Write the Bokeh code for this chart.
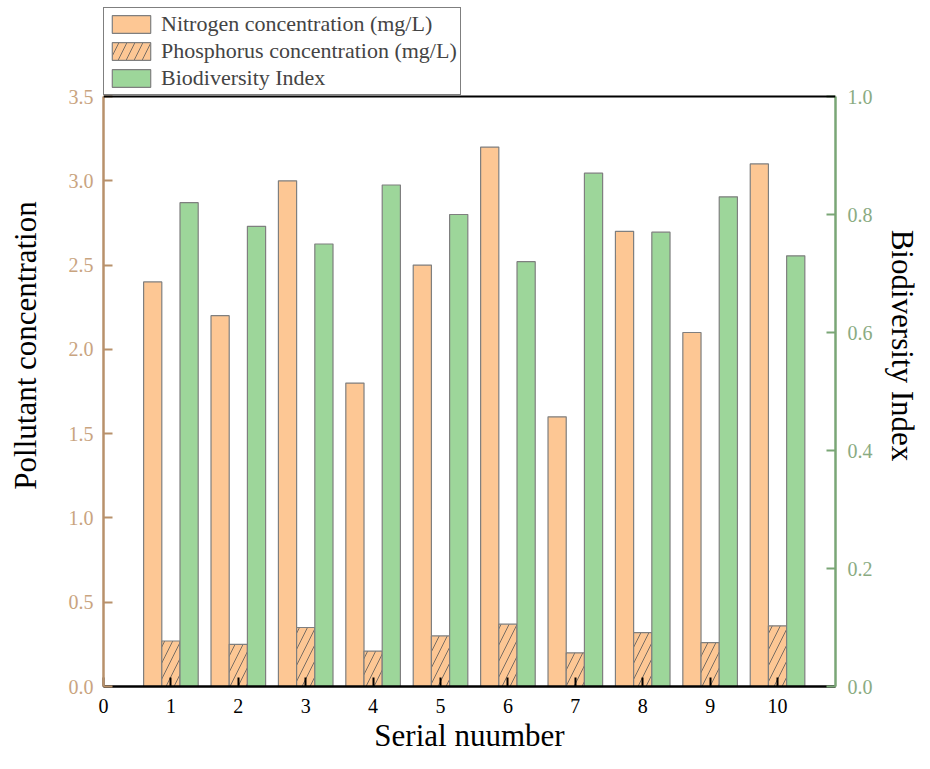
from bokeh.plotting import figure
from bokeh.models import (ColumnDataSource, LinearAxis, Range1d, FixedTicker,
                          NumeralTickFormatter, Legend, LegendItem, Span)
from bokeh.transform import dodge
from bokeh.embed import file_html
from bokeh.resources import INLINE

serial = [1, 2, 3, 4, 5, 6, 7, 8, 9, 10]
nitrogen = [2.4, 2.2, 3.0, 1.8, 2.5, 3.2, 1.6, 2.7, 2.1, 3.1]
phosphorus = [0.27, 0.25, 0.35, 0.21, 0.30, 0.37, 0.20, 0.32, 0.26, 0.36]
biodiversity = [0.82, 0.78, 0.75, 0.85, 0.80, 0.72, 0.87, 0.77, 0.83, 0.73]

x_ticks = [0, 1, 2, 3, 4, 5, 6, 7, 8, 9, 10]
left_ticks = [0.0, 0.5, 1.0, 1.5, 2.0, 2.5, 3.0, 3.5]
right_ticks = [0.0, 0.2, 0.4, 0.6, 0.8, 1.0]
LEFT_MAX = 3.5
RIGHT_MAX = 1.0

SERIF = "Liberation Serif"
TAN = "#b8916b"
TAN_TXT = "#c9a47f"
GREEN_AX = "#7aa676"
GREEN_TXT = "#8aab82"
PEACH = "#fdc794"
GREEN = "#9dd69a"
EDGE = "#7f7f7f"

# frame geometry (px): axis area 590 px tall, legend strip above it
AXIS_PX = 590
TOP_PX = 92
left_end = LEFT_MAX * (1 + TOP_PX / AXIS_PX)
right_end = RIGHT_MAX * (1 + TOP_PX / AXIS_PX)

src = ColumnDataSource(dict(serial=serial, nitrogen=nitrogen,
                            phosphorus=phosphorus, bio=biodiversity))

p = figure(width=922, height=761, output_backend="svg", toolbar_location=None,
           x_range=Range1d(0, 10.86), y_range=Range1d(0, left_end),
           min_border_left=103, min_border_right=86, min_border_top=4,
           min_border_bottom=75)
p.extra_y_ranges = {"bio": Range1d(0, right_end)}
p.grid.visible = False
p.outline_line_color = None

w = 0.27
r1 = p.vbar(x=dodge("serial", -w, range=p.x_range), top="nitrogen", width=w,
            source=src, fill_color=PEACH, line_color=EDGE, line_width=1.2)
r2 = p.vbar(x=dodge("serial", 0.0, range=p.x_range), top="phosphorus", width=w,
            source=src, fill_color=PEACH, line_color=EDGE, line_width=1.2,
            hatch_pattern="/", hatch_color="#555555", hatch_scale=16,
            hatch_weight=0.8)
r3 = p.vbar(x=dodge("serial", w, range=p.x_range), top="bio", width=w,
            source=src, fill_color=GREEN, line_color=EDGE, line_width=1.2,
            y_range_name="bio")

# top border of the axes box
p.add_layout(Span(location=LEFT_MAX, dimension="width", line_color="black",
                  line_width=2))

# left axis
la = p.yaxis[0]
la.bounds = (0, LEFT_MAX)
la.ticker = FixedTicker(ticks=left_ticks)
la.formatter = NumeralTickFormatter(format="0.0")
la.axis_line_color = TAN
la.axis_line_width = 2.5
la.major_tick_line_color = TAN
la.major_tick_line_width = 2
la.major_tick_in = 9
la.major_tick_out = 0
la.minor_tick_line_color = None
la.major_label_text_color = TAN_TXT
la.major_label_text_font = SERIF
la.major_label_text_font_size = "20px"
la.major_label_standoff = 10
la.axis_label = "Pollutant concentration"
la.axis_label_text_font = SERIF
la.axis_label_text_font_size = "31px"
la.axis_label_text_font_style = "normal"
la.axis_label_text_color = "black"
la.axis_label_standoff = 23

# right axis
ra = LinearAxis(y_range_name="bio", ticker=FixedTicker(ticks=right_ticks),
                formatter=NumeralTickFormatter(format="0.0"),
                bounds=(0, RIGHT_MAX))
ra.axis_line_color = GREEN_AX
ra.axis_line_width = 2.5
ra.major_tick_line_color = GREEN_AX
ra.major_tick_line_width = 2
ra.major_tick_in = 9
ra.major_tick_out = 0
ra.minor_tick_line_color = None
ra.major_label_text_color = GREEN_TXT
ra.major_label_text_font = SERIF
ra.major_label_text_font_size = "20px"
ra.major_label_standoff = 12
ra.axis_label = "Biodiversity Index"
ra.axis_label_text_font = SERIF
ra.axis_label_text_font_size = "31px"
ra.axis_label_text_font_style = "normal"
ra.axis_label_text_color = "black"
ra.axis_label_standoff = 9
p.add_layout(ra, "right")

# bottom axis
xa = p.xaxis[0]
xa.ticker = FixedTicker(ticks=x_ticks)
xa.axis_line_color = "black"
xa.axis_line_width = 2.5
xa.major_tick_line_color = "black"
xa.major_tick_line_width = 2
xa.major_tick_in = 9
xa.major_tick_out = 0
xa.minor_tick_line_color = None
xa.major_label_text_color = "black"
xa.major_label_text_font = SERIF
xa.major_label_text_font_size = "20px"
xa.major_label_standoff = 12
xa.axis_label = "Serial nuumber"
xa.axis_label_text_font = SERIF
xa.axis_label_text_font_size = "31px"
xa.axis_label_text_font_style = "normal"
xa.axis_label_text_color = "black"
xa.axis_label_standoff = 2

legend = Legend(items=[
    LegendItem(label="Nitrogen concentration (mg/L)", renderers=[r1]),
    LegendItem(label="Phosphorus concentration (mg/L)", renderers=[r2]),
    LegendItem(label="Biodiversity Index", renderers=[r3]),
], location=(0, AXIS_PX + 1))
legend.border_line_color = "black"
legend.border_line_width = 1.5
legend.background_fill_alpha = 1
legend.label_text_font = SERIF
legend.label_text_font_size = "22px"
legend.glyph_width = 48
legend.glyph_height = 22
legend.spacing = 1
legend.padding = 3
legend.margin = 0
legend.label_standoff = 6
legend.label_height = 22
p.add_layout(legend, "center")

open("out.html", "w").write(file_html(p, INLINE))
